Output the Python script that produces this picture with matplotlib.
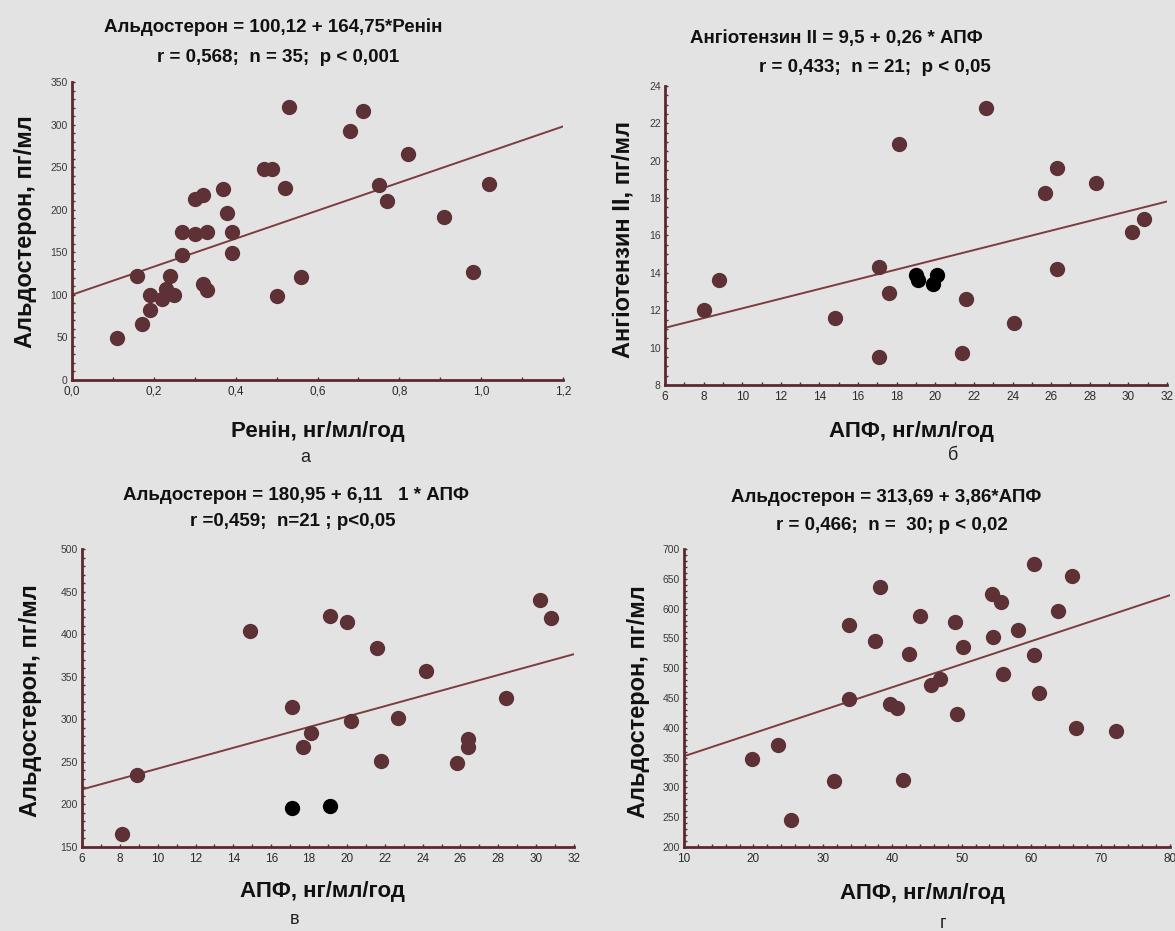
"""Чотири діаграми розсіювання з лініями регресії (альдостерон, ренін, АПФ, ангіотензин II)."""

import matplotlib
matplotlib.use("Agg")
import matplotlib.pyplot as plt
import numpy as np
from matplotlib.ticker import MultipleLocator, FuncFormatter

W, H = 1175, 931

plt.rcParams.update({
    "font.family": ["Liberation Sans", "DejaVu Sans"],
    "figure.facecolor": "#e3e3e3",
    "savefig.facecolor": "#e3e3e3",
})

PT_COLOR = "#5e3136"
LINE_COLOR = "#7d3d3d"
AX_COLOR = "#5a2a2e"

# --- а: ренін -> альдостерон
renin_x = [0.11, 0.16, 0.17, 0.19, 0.19, 0.22, 0.23, 0.24, 0.25, 0.27, 0.27, 0.30,
           0.30, 0.32, 0.32, 0.33, 0.33, 0.37, 0.38, 0.39, 0.39, 0.47, 0.49, 0.50,
           0.52, 0.53, 0.56, 0.68, 0.71, 0.75, 0.77, 0.82, 0.91, 0.98, 1.02]
renin_aldo = [49, 122, 66, 100, 82, 95, 107, 122, 100, 147, 174, 172,
              212, 217, 113, 106, 174, 224, 196, 174, 149, 248, 248, 99,
              225, 321, 121, 293, 316, 229, 210, 266, 191, 127, 230]
renin_fit = (100.12, 164.75)

# --- б: АПФ -> ангіотензин II
apf_b_x = [8.0, 8.8, 14.8, 17.1, 17.1, 17.6, 18.1, 21.4, 21.6, 22.6, 24.1, 25.7,
           26.3, 26.3, 28.3, 30.2, 30.8]
ang_y = [12.0, 13.6, 11.6, 14.3, 9.5, 12.9, 20.9, 9.7, 12.6, 22.8, 11.3, 18.3,
         19.6, 14.2, 18.8, 16.2, 16.9]
apf_b_black_x = [19.0, 19.1, 20.1, 19.9]
ang_black_y = [13.9, 13.6, 13.9, 13.4]
ang_fit = (9.5, 0.26)

# --- в: АПФ -> альдостерон (n=21)
apf_v_x = [8.1, 8.9, 14.9, 17.1, 17.7, 18.1, 19.1, 20.0, 20.2, 21.6, 21.8, 22.7,
           24.2, 25.8, 26.4, 26.4, 28.4, 30.2, 30.8]
aldo_v_y = [165, 234, 404, 314, 267, 284, 421, 414, 298, 384, 251, 301,
            357, 249, 277, 267, 325, 440, 419]
apf_v_black_x = [17.1, 19.1]
aldo_v_black_y = [196, 198]
aldo_v_fit = (180.95, 6.111)

# --- г: АПФ -> альдостерон (n=30)
apf_g_x = [19.8, 23.6, 25.4, 31.6, 33.7, 33.7, 37.5, 38.3, 39.6, 40.7, 41.5, 42.4,
           44.0, 45.6, 46.9, 49.0, 49.3, 50.2, 54.3, 54.5, 55.7, 55.9, 58.1, 60.4,
           60.4, 61.1, 63.9, 65.9, 66.5, 72.2]
aldo_g_y = [348, 371, 246, 310, 573, 449, 546, 637, 440, 433, 312, 524,
            588, 472, 482, 578, 423, 536, 625, 553, 611, 491, 564, 674,
            522, 458, 596, 655, 400, 394]
aldo_g_fit = (313.69, 3.86)


def px_axes(fig, left, right, top, bottom):
    return fig.add_axes([left / W, 1 - bottom / H, (right - left) / W, (bottom - top) / H])


def ftext(fig, x, y, s, **kw):
    fig.text(x / W, 1 - y / H, s, ha="center", va="center", **kw)


def style(ax, xlim, ylim, xmaj, xmin, ymaj, ymin, xfmt=None):
    ax.set_facecolor("none")
    ax.set_xlim(*xlim)
    ax.set_ylim(*ylim)
    for s in ("top", "right"):
        ax.spines[s].set_visible(False)
    for s in ("left", "bottom"):
        ax.spines[s].set_color(AX_COLOR)
        ax.spines[s].set_linewidth(2)
    ax.xaxis.set_major_locator(MultipleLocator(xmaj))
    ax.xaxis.set_minor_locator(MultipleLocator(xmin))
    ax.yaxis.set_major_locator(MultipleLocator(ymaj))
    ax.yaxis.set_minor_locator(MultipleLocator(ymin))
    if xfmt:
        ax.xaxis.set_major_formatter(FuncFormatter(xfmt))
    ax.tick_params(axis="both", which="both", direction="in", color=AX_COLOR,
                   length=2.5, width=1)
    ax.tick_params(axis="x", labelsize=8.5, labelcolor="#2a2a2a", pad=4)
    ax.tick_params(axis="y", labelsize=7.5, labelcolor="#3a3a3a", pad=3)


def fit_line(ax, xlim, fit):
    xs = np.array(xlim, dtype=float)
    ax.plot(xs, fit[0] + fit[1] * xs, color=LINE_COLOR, lw=1.4, zorder=2)


fig = plt.figure(figsize=(W / 100, H / 100), dpi=100)
S = 100

# а
ax = px_axes(fig, 72, 563, 82, 380)
style(ax, (0, 1.2), (0, 350), 0.2, 0.1, 50, 10,
      xfmt=lambda v, p: f"{v:.1f}".replace(".", ","))
fit_line(ax, (0, 1.2), renin_fit)
ax.scatter(renin_x, renin_aldo, s=S, color=PT_COLOR, zorder=3, clip_on=False)

# б
ax = px_axes(fig, 665, 1167, 86, 385)
style(ax, (6, 32), (8, 24), 2, 1, 2, 0.5)
fit_line(ax, (6, 32), ang_fit)
ax.scatter(apf_b_x, ang_y, s=S, color=PT_COLOR, zorder=3)
ax.scatter(apf_b_black_x, ang_black_y, s=S, color="black", zorder=4)

# в
ax = px_axes(fig, 82, 574, 549, 847)
style(ax, (6, 32), (150, 500), 2, 1, 50, 10)
fit_line(ax, (6, 32), aldo_v_fit)
ax.scatter(apf_v_x, aldo_v_y, s=S, color=PT_COLOR, zorder=3)
ax.scatter(apf_v_black_x, aldo_v_black_y, s=S, color="black", zorder=4)

# г
ax = px_axes(fig, 684, 1170, 549, 847)
style(ax, (10, 80), (200, 700), 10, 2, 50, 10)
fit_line(ax, (10, 80), aldo_g_fit)
ax.scatter(apf_g_x, aldo_g_y, s=S, color=PT_COLOR, zorder=3)

# заголовки
tkw = dict(fontsize=13.5, fontweight="bold", color="#111111")
ftext(fig, 273, 27, "Альдостерон = 100,12 + 164,75*Ренін", **tkw)
ftext(fig, 278, 57, "r = 0,568;  n = 35;  p < 0,001", **tkw)
ftext(fig, 836, 38, "Ангіотензин II = 9,5 + 0,26 * АПФ", **tkw)
ftext(fig, 875, 67, "r = 0,433;  n = 21;  p < 0,05", **tkw)
ftext(fig, 296, 495, "Альдостерон = 180,95 + 6,11   1 * АПФ", **tkw)
ftext(fig, 293, 522, "r =0,459;  n=21 ; p<0,05", **tkw)
ftext(fig, 886, 497, "Альдостерон = 313,69 + 3,86*АПФ", **tkw)
ftext(fig, 892, 525, "r = 0,466;  n =  30; p < 0,02", **tkw)

# підписи осей
lkw = dict(fontsize=16, fontweight="bold", color="#111111")
ftext(fig, 318, 431, "Ренін, нг/мл/год", **lkw)
ftext(fig, 911, 432, "АПФ, нг/мл/год", **lkw)
ftext(fig, 322, 892, "АПФ, нг/мл/год", **lkw)
ftext(fig, 922, 894, "АПФ, нг/мл/год", **lkw)
ykw = dict(fontsize=17, fontweight="bold", color="#111111", rotation=90)
ftext(fig, 26, 232, "Альдостерон, пг/мл", **ykw)
ftext(fig, 623, 239, "Ангіотензин II, пг/мл", **ykw)
ftext(fig, 31, 701, "Альдостерон, пг/мл", **ykw)
ftext(fig, 639, 702, "Альдостерон, пг/мл", **ykw)

# літери панелей
ckw = dict(fontsize=13, color="#222222")
ftext(fig, 305, 458, "а", **ckw)
ftext(fig, 953, 455, "б", **ckw)
ftext(fig, 295, 920, "в", **ckw)
ftext(fig, 943, 924, "г", **ckw)

fig.savefig("out.png", dpi=100)
